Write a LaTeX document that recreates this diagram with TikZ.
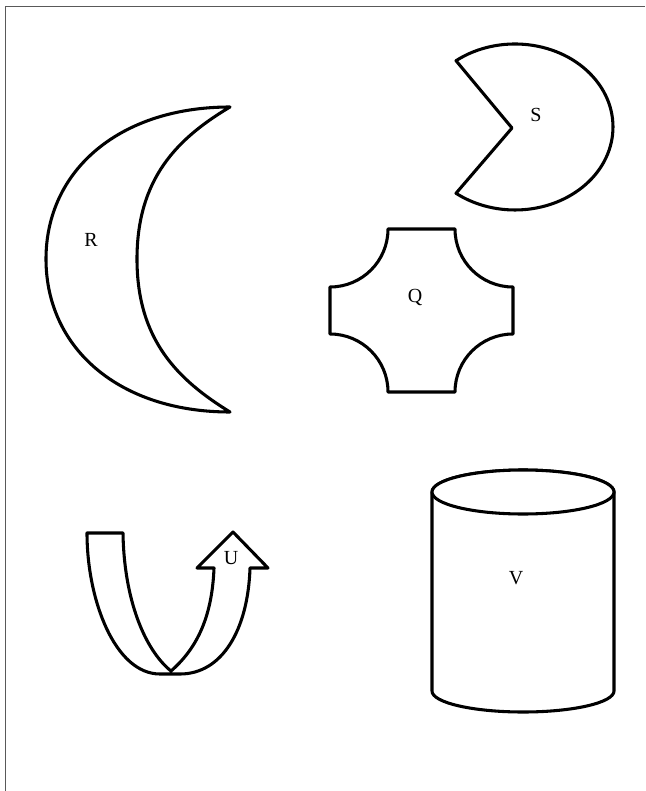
\documentclass[tikz,border=0pt]{standalone}
\usepackage{fontspec}
\setmainfont{Liberation Serif}
\begin{document}
\begin{tikzpicture}[x=0.75pt,y=0.75pt,
  shp/.style={draw=black,line width=2.3pt,line join=round,fill=white},
  lbl/.style={font=\fontsize{15}{18}\selectfont,inner sep=0pt},
  frame/.style={draw=black!65,line width=1.2pt}]
\useasboundingbox (0,0) rectangle (645,-791);
\fill[white] (0,0) rectangle (645,-791);
\draw[frame] (5.5,-791) -- (5.5,-6.5) -- (645,-6.5);

% R crescent
\draw[shp] (230,-107) .. controls (120,-107) and (46,-170) .. (46,-259)
  .. controls (46,-349) and (120,-412) .. (230,-412)
  .. controls (178,-380) and (137,-340) .. (137,-259)
  .. controls (137,-178) and (178,-138) .. (230,-107) -- cycle;
\node[lbl] (R) at (91,-240) {R};

% S pacman
\draw[shp] (512,-128) -- (456,-60.7)
  arc[start angle=127,end angle=-127,x radius=98,y radius=83] -- cycle;
\node[lbl] (S) at (536,-115) {S};

% Q
\draw[shp] (388,-229) -- (455,-229)
  arc[start angle=180,end angle=270,radius=58] -- (513,-334)
  arc[start angle=90,end angle=180,radius=58] -- (388,-392)
  arc[start angle=0,end angle=90,radius=58] -- (330,-287)
  arc[start angle=270,end angle=360,radius=58] -- cycle;
\node[lbl] (Q) at (415,-297) {Q};

% V cylinder
\draw[shp] (432,-492) -- (432,-691)
  arc[start angle=180,end angle=360,x radius=91,y radius=21] -- (614,-492)
  arc[start angle=0,end angle=180,x radius=91,y radius=22] -- cycle;
\draw[shp] (523,-492) ellipse[x radius=91,y radius=22];
\node[lbl] (V) at (516,-578) {V};

% U arrow
\draw[shp] (87,-533) -- (123,-533)
  .. controls (124,-600) and (145,-650) .. (171,-671)
  .. controls (195,-650) and (212,-620) .. (214,-568)
  -- (197,-568) -- (233,-532) -- (268,-568) -- (250,-568)
  .. controls (248,-630) and (222,-674) .. (180,-674) -- (160,-674)
  .. controls (115,-674) and (87,-600) .. (87,-533) -- cycle;
\node[lbl] (U) at (231,-558) {U};
\end{tikzpicture}
\end{document}
